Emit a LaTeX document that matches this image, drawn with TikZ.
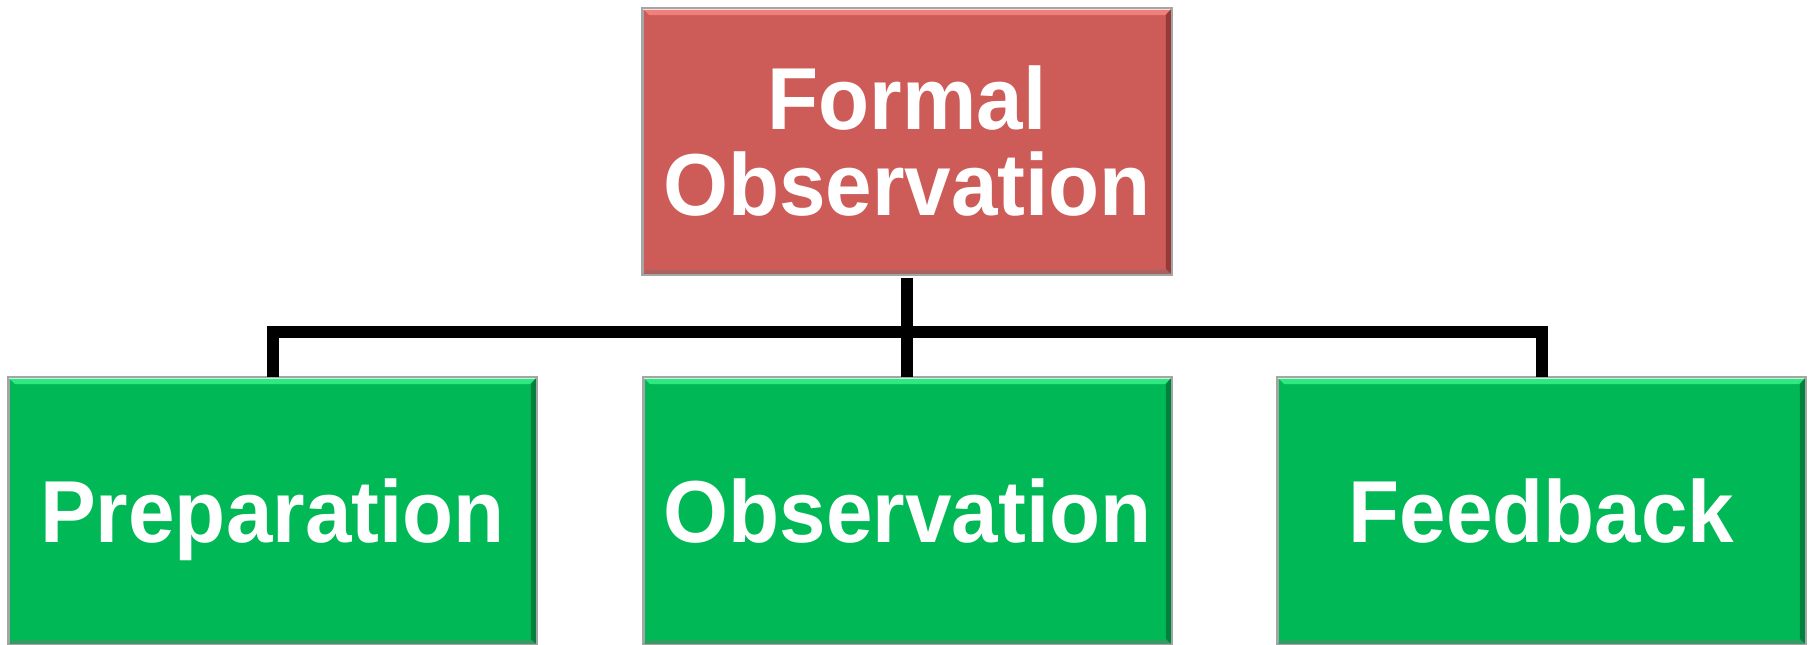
\documentclass[tikz,border=0pt]{standalone}
\usepackage{fontspec}
\setmainfont{Liberation Sans}[FakeStretch=0.95]
\usetikzlibrary{calc}
\definecolor{redmain}{RGB}{205,91,88}
\definecolor{redlight}{RGB}{240,128,124}
\definecolor{reddark}{RGB}{150,58,56}
\definecolor{grnmain}{RGB}{0,185,86}
\definecolor{grnlight}{RGB}{48,232,128}
\definecolor{grndark}{RGB}{0,130,60}
\definecolor{edgegray}{RGB}{165,165,165}
\tikzset{
  box/.style={rectangle, inner sep=0pt, draw=edgegray, line width=0.8pt,
    text=white, align=center, font=\bfseries\fontsize{44}{43}\selectfont},
  topbox/.style={box, fill=redmain, minimum width=264pt, minimum height=132.5pt},
  lowbox/.style={box, fill=grnmain, minimum width=263.5pt, minimum height=133pt, text depth=0pt},
  conn/.style={line width=6pt, black, line join=miter, line cap=butt},
}
\newcommand{\bevel}[3]{% node, light, dark
  \fill[#2] (#1.north west) -- (#1.north east) -- ($(#1.north east)+(-3.5pt,-3.5pt)$) -- ($(#1.north west)+(3.5pt,-3.5pt)$) -- cycle;
  \draw[white!70!#2, line width=0.6pt] ($(#1.north west)+(0.5pt,-0.8pt)$) -- ($(#1.north east)+(-0.5pt,-0.8pt)$);
  \fill[#3] (#1.north east) -- (#1.south east) -- ($(#1.south east)+(-3pt,3pt)$) -- ($(#1.north east)+(-3pt,-3.5pt)$) -- cycle;
  \fill[#3!80!white] (#1.south west) -- (#1.south east) -- ($(#1.south east)+(-3pt,2.5pt)$) -- ($(#1.south west)+(2.5pt,2.5pt)$) -- cycle;
  \draw[edgegray, line width=0.8pt] (#1.north west) rectangle (#1.south east);
}
\begin{document}
\begin{tikzpicture}[x=0.5pt,y=-0.5pt]
\useasboundingbox (0,0) rectangle (1814,644);
\node[topbox] (top) at (907,141.5) {Formal\\Observation};
\node[lowbox] (prep) at (272.5,511) {Preparation};
\node[lowbox] (obs) at (907.5,511) {Observation};
\node[lowbox] (feed) at (1541.5,511) {Feedback};
\bevel{top}{redlight}{reddark}
\bevel{prep}{grnlight}{grndark}
\bevel{obs}{grnlight}{grndark}
\bevel{feed}{grnlight}{grndark}
\draw[conn] ([yshift=-1.5pt]top.south) -- ++(0,54) -| (prep.north);
\draw[conn] ([yshift=-1.5pt]top.south) -- ++(0,54) -| (feed.north);
\draw[conn] ([yshift=-1.5pt]top.south) -- (obs.north -| top.south);
\end{tikzpicture}
\end{document}
